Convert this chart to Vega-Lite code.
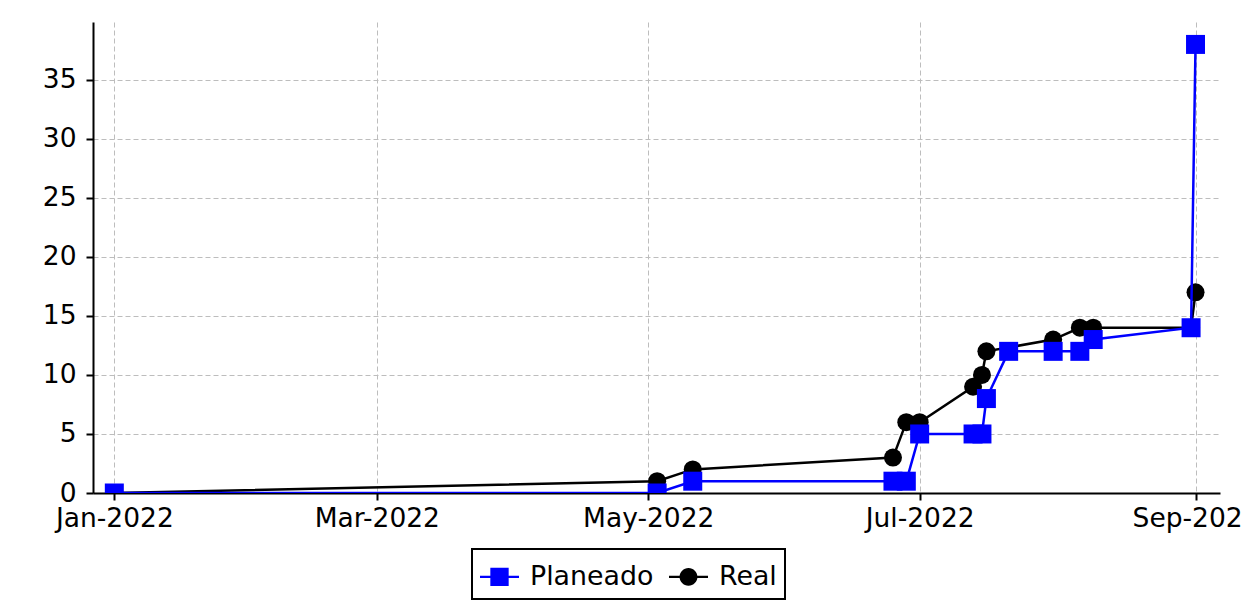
{
  "$schema": "https://vega.github.io/schema/vega-lite/v6.json",
  "width": 1127,
  "height": 471,
  "autosize": {"type": "none"},
  "padding": {"left": 93, "top": 22, "right": 22, "bottom": 109},
  "background": "white",
  "config": {
    "view": {"stroke": null},
    "font": "DejaVu Sans",
    "axis": {
      "labelFont": "DejaVu Sans",
      "labelFontSize": 26.5,
      "labelColor": "#000000",
      "domainColor": "#000000",
      "domainWidth": 2,
      "tickColor": "#000000",
      "tickWidth": 2,
      "tickSize": 7,
      "gridColor": "#bdbdbd",
      "gridDash": [5, 3],
      "gridWidth": 1,
      "title": null
    }
  },
  "data": {
    "values": [
      {"serie": "Planeado", "fecha": "2022-01-01", "valor": 0},
      {"serie": "Planeado", "fecha": "2022-05-03", "valor": 0},
      {"serie": "Planeado", "fecha": "2022-05-11", "valor": 1},
      {"serie": "Planeado", "fecha": "2022-06-25", "valor": 1},
      {"serie": "Planeado", "fecha": "2022-06-28", "valor": 1},
      {"serie": "Planeado", "fecha": "2022-07-01", "valor": 5},
      {"serie": "Planeado", "fecha": "2022-07-13", "valor": 5},
      {"serie": "Planeado", "fecha": "2022-07-15", "valor": 5},
      {"serie": "Planeado", "fecha": "2022-07-16", "valor": 8},
      {"serie": "Planeado", "fecha": "2022-07-21", "valor": 12},
      {"serie": "Planeado", "fecha": "2022-07-31", "valor": 12},
      {"serie": "Planeado", "fecha": "2022-08-06", "valor": 12},
      {"serie": "Planeado", "fecha": "2022-08-09", "valor": 13},
      {"serie": "Planeado", "fecha": "2022-08-31", "valor": 14},
      {"serie": "Planeado", "fecha": "2022-09-01", "valor": 38},
      {"serie": "Real", "fecha": "2022-01-01", "valor": 0},
      {"serie": "Real", "fecha": "2022-05-03", "valor": 1},
      {"serie": "Real", "fecha": "2022-05-11", "valor": 2},
      {"serie": "Real", "fecha": "2022-06-25", "valor": 3},
      {"serie": "Real", "fecha": "2022-06-28", "valor": 6},
      {"serie": "Real", "fecha": "2022-07-01", "valor": 6},
      {"serie": "Real", "fecha": "2022-07-13", "valor": 9},
      {"serie": "Real", "fecha": "2022-07-15", "valor": 10},
      {"serie": "Real", "fecha": "2022-07-16", "valor": 12},
      {"serie": "Real", "fecha": "2022-07-31", "valor": 13},
      {"serie": "Real", "fecha": "2022-08-06", "valor": 14},
      {"serie": "Real", "fecha": "2022-08-09", "valor": 14},
      {"serie": "Real", "fecha": "2022-08-31", "valor": 14},
      {"serie": "Real", "fecha": "2022-09-01", "valor": 17}
    ]
  },
  "encoding": {
    "x": {
      "field": "fecha",
      "type": "temporal",
      "scale": {
        "type": "utc",
        "domain": [
          {"year": 2021, "month": 12, "date": 27, "hours": 5, "utc": true},
          {"year": 2022, "month": 9, "date": 6, "hours": 12, "utc": true}
        ],
        "nice": false
      },
      "axis": {
        "format": "%b-%Y",
        "values": [
          {"year": 2022, "month": 1, "date": 1, "utc": true},
          {"year": 2022, "month": 3, "date": 1, "utc": true},
          {"year": 2022, "month": 5, "date": 1, "utc": true},
          {"year": 2022, "month": 7, "date": 1, "utc": true},
          {"year": 2022, "month": 9, "date": 1, "utc": true}
        ],
        "labelPadding": 5,
        "labelFlush": false,
        "labelOverlap": false
      }
    },
    "y": {
      "field": "valor",
      "type": "quantitative",
      "scale": {"domain": [0, 39.9], "nice": false, "zero": false},
      "axis": {"values": [0, 5, 10, 15, 20, 25, 30, 35], "labelPadding": 10}
    }
  },
  "layer": [
    {
      "transform": [{"filter": "datum.serie === 'Real'"}],
      "mark": {"type": "line", "color": "#000000", "strokeWidth": 2.5, "clip": true}
    },
    {
      "transform": [{"filter": "datum.serie === 'Real'"}],
      "mark": {"type": "point", "shape": "circle", "filled": true, "color": "#000000", "opacity": 1, "size": 324, "strokeWidth": 0, "clip": true}
    },
    {
      "transform": [{"filter": "datum.serie === 'Planeado'"}],
      "mark": {"type": "line", "color": "#0000ff", "strokeWidth": 2.5, "clip": true}
    },
    {
      "transform": [{"filter": "datum.serie === 'Planeado'"}],
      "mark": {"type": "point", "shape": "square", "filled": true, "color": "#0000ff", "opacity": 1, "size": 361, "strokeWidth": 0, "clip": true}
    },
    {
      "transform": [{"filter": "false"}],
      "mark": {"type": "point", "filled": true},
      "encoding": {
        "color": {
          "field": "serie",
          "type": "nominal",
          "scale": {"domain": ["Planeado", "Real"], "range": ["#0000ff", "#000000"]},
          "legend": {
            "title": null,
            "orient": "none",
            "legendX": 379,
            "legendY": 527,
            "direction": "horizontal",
            "columns": 2,
            "padding": 8,
            "columnPadding": 15,
            "labelOffset": 11,
            "labelFont": "DejaVu Sans",
            "labelFontSize": 26.8,
            "labelColor": "#000000",
            "strokeColor": "#000000",
            "fillColor": "#ffffff",
            "cornerRadius": 0,
            "symbolSize": 1521,
            "symbolStrokeWidth": 0,
            "symbolOpacity": 1,
            "encode": {"legend": {"update": {"strokeWidth": {"value": 2}}}}
          }
        },
        "shape": {
          "field": "serie",
          "type": "nominal",
          "scale": {
            "domain": ["Planeado", "Real"],
            "range": [
              "M-1,-0.06H1V0.06H-1Z M-0.47,-0.47H0.47V0.47H-0.47Z",
              "M-1,-0.06H1V0.06H-1Z M0.46,0C0.46,0.254 0.254,0.46 0,0.46C-0.254,0.46 -0.46,0.254 -0.46,0C-0.46,-0.254 -0.254,-0.46 0,-0.46C0.254,-0.46 0.46,-0.254 0.46,0Z"
            ]
          }
        }
      }
    }
  ]
}
